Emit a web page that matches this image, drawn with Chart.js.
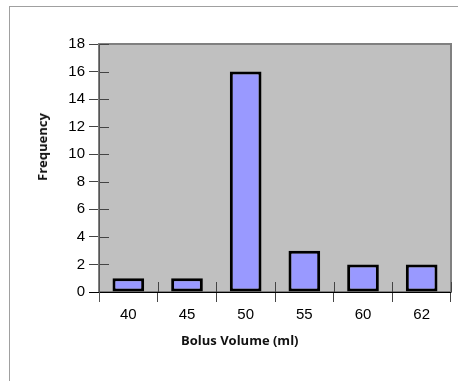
<!DOCTYPE html>
<html lang="en">
<head>
<meta charset="UTF-8">
<title>Bolus Volume</title>
<script src="https://cdn.jsdelivr.net/npm/chart.js@4"></script>
<style>
  body { margin: 0; background: #fff; }
  .wrap { position: relative; width: 458px; height: 381px; }
  .frame { position: absolute; left: 9px; top: 6px; right: 0; bottom: 0; border-top: 1px solid #a0a0a0; border-left: 1px solid #a0a0a0; }
  canvas { position: absolute; left: 0; top: 0; }
  .ttl { position: absolute; font-family: "Open Sans", sans-serif; font-weight: bold; font-size: 13px; color: #111; white-space: nowrap; }
  #xt { left: 181px; top: 331px; }
  #yt { left: 42px; top: 147px; transform: translate(-50%, -50%) rotate(-90deg); }
</style>
</head>
<body>
<div class="wrap">
  <div class="frame"></div>
  <canvas id="grafico" width="458" height="381"></canvas>
  <div class="ttl" id="xt">Bolus Volume (ml)</div>
  <div class="ttl" id="yt">Frequency</div>
</div>
<script>
const categorias = ['40', '45', '50', '55', '60', '62'];
const frequencias = [1, 1, 16, 3, 2, 2];
const ticksY = [0, 2, 4, 6, 8, 10, 12, 14, 16, 18];

// fundo cinza + moldura + tracinhos pra dentro
const fundo = {
  id: 'fundo',
  beforeDatasetsDraw(chart) {
    const { ctx, chartArea: a } = chart;
    ctx.save();
    ctx.fillStyle = '#c0c0c0';
    ctx.fillRect(a.left, a.top, a.right - a.left, a.bottom - a.top);
    ctx.strokeStyle = '#808080';
    ctx.lineWidth = 2;
    ctx.strokeRect(a.left, a.top, a.right - a.left, a.bottom - a.top);
    ctx.strokeStyle = '#444';
    ctx.lineWidth = 1;
    const y = chart.scales.y, x = chart.scales.x;
    ticksY.forEach(function (v) {
      const py = Math.round(y.getPixelForValue(v)) + 0.5;
      ctx.beginPath(); ctx.moveTo(a.left, py); ctx.lineTo(a.left + 10, py); ctx.stroke();
    });
    for (let i = 0; i <= categorias.length; i++) {
      const px = Math.round(x.getPixelForValue(i - 0.5)) + 0.5;
      ctx.beginPath(); ctx.moveTo(px, a.bottom); ctx.lineTo(px, a.bottom - 10); ctx.stroke();
    }
    ctx.restore();
  },
  afterDatasetsDraw(chart) {
    const { ctx, chartArea: a } = chart;
    ctx.save();
    ctx.strokeStyle = '#000';
    ctx.lineWidth = 1;
    ctx.beginPath(); ctx.moveTo(a.left - 10, a.bottom + 0.5); ctx.lineTo(a.right, a.bottom + 0.5); ctx.stroke();
    ctx.strokeStyle = '#555';
    ctx.beginPath(); ctx.moveTo(a.left + 0.5, a.top); ctx.lineTo(a.left + 0.5, a.bottom + 10); ctx.stroke();
    ctx.restore();
  }
};

new Chart(document.getElementById('grafico'), {
  type: 'bar',
  data: {
    labels: categorias,
    datasets: [{
      data: frequencias,
      backgroundColor: '#9999ff',
      borderColor: '#000',
      borderWidth: 3,
      borderSkipped: false,
      categoryPercentage: 1,
      barPercentage: 0.54
    }]
  },
  options: {
    responsive: false,
    animation: false,
    layout: { padding: { top: 44, right: 7, left: 0, bottom: 0 } },
    plugins: { legend: { display: false }, tooltip: { enabled: false } },
    scales: {
      x: {
        afterFit: function (s) { s.height = 89; },
        border: { display: false },
        grid: { offset: true, drawOnChartArea: false, tickLength: 10, color: '#444' },
        ticks: { color: '#000', padding: 4, font: { family: 'Liberation Sans', size: 15 } }
      },
      y: {
        min: 0, max: 18,
        afterFit: function (s) { s.width = 99; },
        afterBuildTicks: function (s) { s.ticks = ticksY.map(v => ({ value: v })); },
        border: { display: false },
        grid: { drawOnChartArea: false, tickLength: 10, color: '#444' },
        ticks: { color: '#000', padding: 4, font: { family: 'Liberation Sans', size: 15 } }
      }
    }
  },
  plugins: [fundo]
});
</script>
</body>
</html>
